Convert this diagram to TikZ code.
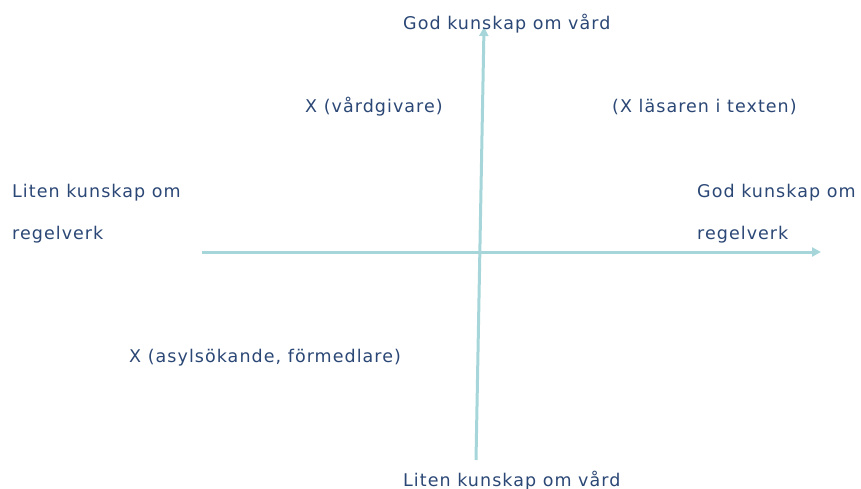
\documentclass[tikz,border=0pt]{standalone}
\usepackage{fontspec}
\setmainfont[LetterSpace=6]{DejaVu Sans}
\usetikzlibrary{arrows.meta}
\definecolor{txt}{HTML}{2B4775}
\definecolor{axis}{HTML}{A6D6D9}
\tikzset{
  lbl/.style={anchor=base west, inner sep=0pt, text=txt, font=\fontsize{17.5}{42}\selectfont, align=left},
  ax/.style={draw=axis, line width=3pt, -{Triangle[length=9pt,width=9pt]}}
}
\begin{document}
\begin{tikzpicture}[x=1pt,y=-1pt]
\useasboundingbox (0,0) rectangle (861,489);
\coordinate (vb) at (476,460);
\coordinate (vt) at (484,27);
\coordinate (hl) at (202,252);
\coordinate (hr) at (821,252);
\draw[ax] (vb) -- (vt);
\draw[ax] (hl) -- (hr);
\node[lbl] (top) at (403,30) {God kunskap om vård};
\node[lbl] (bot) at (403,486) {Liten kunskap om vård};
\node[lbl] (vg) at (305,113) {X (vårdgivare)};
\node[lbl] (las) at (612,113) {(X läsaren i texten)};
\node[lbl] (asyl) at (129,362) {X (asylsökande, förmedlare)};
\node[lbl] (left) at (12,239) {Liten kunskap om\\regelverk};
\node[lbl] (right) at (697,239) {God kunskap om\\regelverk};
\end{tikzpicture}
\end{document}
